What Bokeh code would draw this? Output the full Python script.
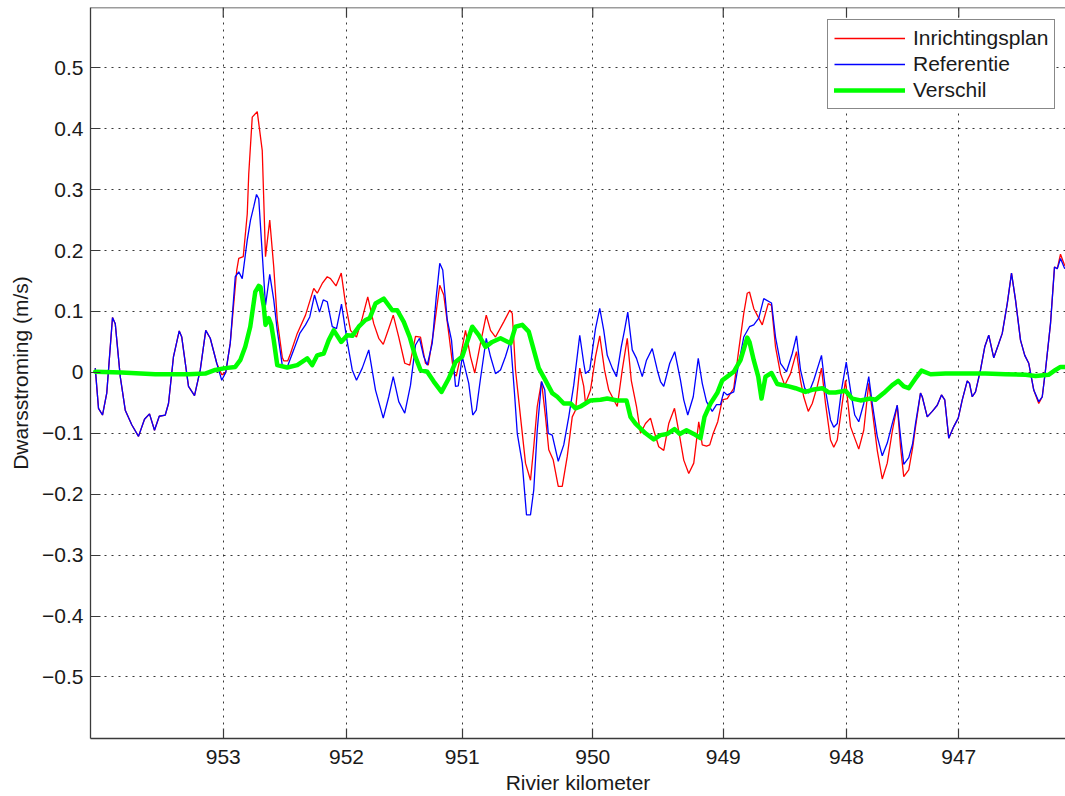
import math
from bokeh.plotting import figure
from bokeh.models import Range1d, FixedTicker, Legend, LegendItem, Span
from bokeh.embed import file_html
from bokeh.resources import INLINE

# ---------------- data (distance along river axis in m) ----------------
afstand_inrichtingsplan = [
    38, 64, 96, 130, 176, 198, 238, 278, 330, 384, 432, 472, 512, 550, 598, 624, 664, 710, 730, 784,
    832, 878, 922, 958, 1010, 1050, 1082, 1118,
    1170, 1186, 1222, 1254, 1266, 1294, 1334, 1374, 1400, 1434, 1466, 1494, 1534, 1546, 1578, 1600,
    1654, 1720, 1786, 1814, 1854, 1894, 1920, 1964, 2006, 2040, 2080, 2128, 2174, 2218, 2266, 2306,
    2342, 2386, 2422, 2466, 2514, 2554, 2600, 2640, 2680, 2702, 2746, 2794, 2826, 2866, 2906, 2926,
    2960, 3000, 3040, 3074, 3120, 3166, 3200, 3240, 3306, 3354, 3374, 3400, 3440, 3480, 3520, 3546,
    3574, 3608, 3640, 3666, 3702, 3742, 3774, 3814, 3854, 3880, 3914, 3946, 3960, 4000, 4040, 4074,
    4112, 4146, 4186, 4214, 4254, 4294, 4326, 4368, 4400, 4440, 4480, 4506, 4546, 4586, 4626, 4672,
    4714, 4746, 4786, 4826, 4866, 4894, 4928, 4954, 4982, 5018, 5054, 5094, 5146, 5186, 5226, 5254,
    5272, 5306, 5374, 5422, 5448, 5480, 5520, 5554, 5600, 5648, 5680, 5706, 5742, 5774, 5814, 5848,
    5880, 5920, 5946, 5974, 6014, 6040, 6080, 6146, 6186, 6226, 6254, 6294, 6334, 6374, 6414, 6454,
    6480, 6506, 6546, 6576, 6600, 6640, 6654, 6694, 6734, 6774, 6808, 6834, 6866, 6906, 6942, 6974,
    7014, 7032, 7054, 7080, 7120, 7154, 7186, 7226, 7262, 7294, 7334, 7368, 7400, 7440, 7474, 7506,
    7546, 7586, 7614, 7640, 7680, 7712, 7734, 7760, 7794,
]
inrichtingsplan = [
    0.007, -0.059, -0.070, -0.034, 0.090, 0.080, -0.007, -0.062, -0.086, -0.105, -0.077, -0.068,
    -0.095, -0.072, -0.070, -0.051, 0.026, 0.068, 0.058, -0.023, -0.038, 0.004, 0.069, 0.056, 0.015,
    -0.004, 0.000, 0.048,
    0.168, 0.187, 0.190, 0.260, 0.326, 0.419, 0.428, 0.364, 0.190, 0.250, 0.173, 0.086, 0.025, 0.019,
    0.019, 0.031, 0.064, 0.094, 0.138, 0.130, 0.146, 0.157, 0.154, 0.142, 0.163, 0.113, 0.069, 0.058,
    0.089, 0.124, 0.080, 0.056, 0.046, 0.072, 0.094, 0.058, 0.015, 0.012, 0.059, 0.058, 0.015, 0.012,
    0.069, 0.143, 0.127, 0.064, -0.002, -0.006, 0.026, 0.069, 0.026, -0.001, 0.048, 0.094, 0.069,
    0.058, 0.083, 0.102, 0.097, 0.004, -0.073, -0.149, -0.177, -0.122, -0.056, -0.015, -0.073, -0.127,
    -0.144, -0.187, -0.187, -0.138, -0.073, -0.062, 0.007, -0.023, -0.051, -0.029, 0.026, 0.060, 0.004,
    -0.029, -0.045, -0.056, 0.004, 0.056, -0.013, -0.056, -0.100, -0.084, -0.075, -0.095, -0.122,
    -0.128, -0.084, -0.059, -0.106, -0.144, -0.166, -0.149, -0.081, -0.119, -0.121, -0.119, -0.100,
    -0.081, -0.045, -0.043, -0.026, 0.037, 0.097, 0.130, 0.132, 0.105, 0.078, 0.113, 0.110, 0.042,
    -0.002, -0.021, -0.002, 0.034, -0.013, -0.040, -0.064, -0.051, -0.023, 0.007, -0.051, -0.111,
    -0.123, -0.111, -0.051, -0.013, -0.089, -0.126, -0.095, -0.018, -0.062, -0.128, -0.175, -0.149,
    -0.097, -0.054, -0.122, -0.171, -0.160, -0.125, -0.090, -0.034, -0.040, -0.073, -0.064, -0.054,
    -0.037, -0.045, -0.108, -0.089, -0.075, -0.045, -0.014, -0.018, -0.040, -0.032, 0.004, 0.042,
    0.061, 0.024, 0.045, 0.064, 0.113, 0.163, 0.119, 0.053, 0.028, 0.015, -0.029, -0.051, -0.040,
    0.004, 0.080, 0.173, 0.170, 0.194, 0.175,
]

afstand_referentie = [
    38, 64, 96, 130, 176, 198, 238, 278, 330, 384, 432, 472, 512, 550, 598, 624, 664, 710, 730, 784,
    832, 878, 922, 958, 1010, 1050, 1082, 1118,
    1158, 1186, 1214, 1254, 1280, 1306, 1328, 1346, 1374, 1400, 1434, 1466, 1494, 1534, 1574, 1626,
    1674, 1720, 1754, 1792, 1832, 1862, 1894, 1934, 1968, 2008, 2054, 2094, 2128, 2174, 2226, 2280,
    2342, 2386, 2422, 2466, 2514, 2560, 2600, 2632, 2666, 2694, 2734, 2766, 2794, 2818, 2854, 2888,
    2920, 2942, 2974, 3026, 3058, 3086, 3120, 3166, 3200, 3240, 3280, 3320, 3360, 3394, 3414, 3454,
    3488, 3520, 3546, 3574, 3608, 3634, 3662, 3694, 3742, 3786, 3826, 3866, 3914, 3946, 3960, 3994,
    4040, 4074, 4106, 4134, 4174, 4208, 4246, 4272, 4298, 4334, 4368, 4414, 4448, 4494, 4534, 4560,
    4586, 4634, 4674, 4720, 4746, 4778, 4822, 4862, 4894, 4928, 4974, 5008, 5040, 5066, 5094, 5146,
    5186, 5226, 5272, 5306, 5346, 5386, 5448, 5480, 5520, 5568, 5614, 5648, 5680, 5714, 5746, 5786,
    5848, 5880, 5920, 5946, 5974, 6008, 6046, 6080, 6114, 6146, 6186, 6226, 6254, 6294, 6334, 6374,
    6414, 6454, 6480, 6506, 6546, 6576, 6600, 6640, 6654, 6694, 6734, 6774, 6808, 6834, 6866, 6906,
    6942, 6974, 7014, 7032, 7054, 7080, 7120, 7154, 7186, 7226, 7262, 7294, 7334, 7368, 7400, 7440,
    7474, 7506, 7546, 7586, 7614, 7640, 7680, 7712, 7734, 7760, 7794,
]
referentie = [
    0.007, -0.059, -0.070, -0.034, 0.090, 0.080, -0.007, -0.062, -0.086, -0.105, -0.077, -0.068,
    -0.095, -0.072, -0.070, -0.051, 0.026, 0.068, 0.058, -0.023, -0.038, 0.004, 0.069, 0.056, 0.015,
    -0.013, 0.000, 0.048,
    0.157, 0.165, 0.154, 0.217, 0.250, 0.272, 0.292, 0.285, 0.195, 0.110, 0.161, 0.119, 0.069, 0.012,
    0.009, 0.037, 0.064, 0.078, 0.091, 0.127, 0.099, 0.119, 0.116, 0.075, 0.072, 0.112, 0.050, 0.004,
    -0.013, 0.007, 0.037, -0.029, -0.075, -0.040, -0.007, -0.048, -0.067, -0.021, 0.045, 0.056, 0.026,
    0.012, 0.048, 0.124, 0.179, 0.168, 0.086, 0.053, -0.023, -0.022, 0.026, -0.018, -0.070, -0.062,
    -0.010, 0.056, 0.026, -0.002, 0.004, 0.026, 0.053, -0.040, -0.100, -0.149, -0.234, -0.234, -0.193,
    -0.095, -0.015, -0.029, -0.100, -0.103, -0.146, -0.119, -0.073, -0.021, 0.061, 0.015, -0.002,
    0.004, 0.072, 0.105, 0.069, 0.028, 0.007, -0.007, 0.042, 0.069, 0.099, 0.037, 0.023, -0.007, 0.020,
    0.039, 0.004, -0.015, -0.023, 0.015, 0.034, -0.013, -0.045, -0.070, -0.040, 0.023, -0.018, -0.048,
    -0.064, -0.053, -0.053, -0.032, -0.037, -0.032, 0.015, 0.058, 0.075, 0.078, 0.089, 0.121, 0.114,
    0.058, 0.015, 0.001, 0.031, 0.060, 0.004, -0.026, -0.034, -0.013, 0.028, -0.029, -0.078, -0.090,
    -0.084, -0.029, 0.017, -0.029, -0.070, -0.081, -0.051, -0.007, -0.051, -0.105, -0.137, -0.116,
    -0.084, -0.054, -0.105, -0.151, -0.140, -0.118, -0.084, -0.034, -0.040, -0.073, -0.064, -0.054,
    -0.037, -0.045, -0.108, -0.089, -0.075, -0.045, -0.014, -0.018, -0.040, -0.032, 0.004, 0.042,
    0.061, 0.024, 0.045, 0.064, 0.113, 0.163, 0.119, 0.053, 0.028, 0.015, -0.029, -0.048, -0.040,
    0.004, 0.080, 0.173, 0.170, 0.187, 0.170,
]

afstand_verschil = [
    38, 248, 518, 784, 918, 998, 1078, 1158, 1198, 1238, 1278, 1318, 1346, 1360, 1386, 1400, 1426,
    1446, 1466, 1494, 1574, 1654, 1734, 1774, 1814, 1866, 1906, 1946, 2006, 2054, 2094, 2146, 2200,
    2234, 2280, 2346, 2414, 2454, 2506, 2554, 2600, 2640, 2694, 2746, 2808, 2866, 2920, 2974, 3000,
    3054, 3106, 3160, 3214, 3280, 3360, 3400, 3454, 3506, 3546, 3586, 3640, 3694, 3734, 3786, 3840,
    3880, 3920, 4000, 4080, 4134, 4214, 4288, 4320, 4360, 4440, 4506, 4560, 4614, 4672, 4714, 4768,
    4826, 4880, 4912, 4960, 5014, 5054, 5094, 5146, 5200, 5254, 5272, 5306, 5342, 5368, 5400, 5448,
    5494, 5586, 5640, 5720, 5786, 5854, 5906, 5960, 6040, 6094, 6160, 6240, 6280, 6346, 6414, 6462,
    6506, 6546, 6600, 6648, 6720, 6840, 7000, 7160, 7320, 7480, 7560, 7664, 7720, 7760, 7800,
]
verschil = [
    0.001, 0.000, -0.003, -0.003, -0.002, 0.004, 0.007, 0.009, 0.020, 0.042, 0.075, 0.132, 0.142,
    0.140, 0.108, 0.078, 0.089, 0.078, 0.053, 0.012, 0.008, 0.012, 0.023, 0.012, 0.028, 0.031, 0.053,
    0.069, 0.050, 0.061, 0.060, 0.075, 0.086, 0.089, 0.113, 0.121, 0.102, 0.102, 0.083, 0.058, 0.025,
    0.004, 0.001, -0.015, -0.032, -0.010, 0.017, 0.026, 0.042, 0.075, 0.061, 0.042, 0.050, 0.056,
    0.048, 0.075, 0.078, 0.067, 0.037, 0.007, -0.013, -0.034, -0.040, -0.051, -0.051, -0.059, -0.056,
    -0.046, -0.045, -0.043, -0.046, -0.046, -0.073, -0.084, -0.100, -0.110, -0.103, -0.101, -0.093,
    -0.101, -0.095, -0.101, -0.108, -0.073, -0.051, -0.034, -0.013, -0.007, 0.001, 0.020, 0.057,
    0.050, 0.020, -0.007, -0.043, -0.007, -0.001, -0.019, -0.023, -0.026, -0.032, -0.028, -0.026,
    -0.033, -0.033, -0.030, -0.043, -0.046, -0.043, -0.045, -0.034, -0.021, -0.014, -0.023, -0.026,
    -0.010, 0.003, -0.003, -0.002, -0.002, -0.002, -0.003, -0.004, -0.006, -0.004, 0.004, 0.009, 0.009,
]

km_tick_afstand = [1062, 2048, 2974, 4018, 5062, 6048, 6946]
km_tick_labels = ["953", "952", "951", "950", "949", "948", "947"]
y_ticks = [-0.5, -0.4, -0.3, -0.2, -0.1, 0.0, 0.1, 0.2, 0.3, 0.4, 0.5]
y_tick_labels = ["\u22120.5", "\u22120.4", "\u22120.3", "\u22120.2", "\u22120.1", "0",
                 "0.1", "0.2", "0.3", "0.4", "0.5"]

X_MIN, X_MAX = 0, 7800
Y_MIN, Y_MAX = -0.601, 0.599

# ---------------- figure ----------------
FONT = "Liberation Sans"
FS = "21px"
TXT = "#1a1a1a"
AX = "#3a3a3a"

p = figure(width=1065, height=796, output_backend="svg", toolbar_location=None,
           x_range=Range1d(X_MIN, X_MAX), y_range=Range1d(Y_MIN, Y_MAX),
           min_border_left=90, min_border_right=0, min_border_top=7, min_border_bottom=57,
           x_axis_label="Rivier kilometer", y_axis_label="Dwarsstroming (m/s)")
p.outline_line_color = None
p.background_fill_color = "white"
p.border_fill_color = "white"

xt = FixedTicker(ticks=km_tick_afstand, minor_ticks=[])
yt = FixedTicker(ticks=y_ticks, minor_ticks=[])

xa = p.xaxis[0]
xa.ticker = xt
xa.major_label_overrides = {t: l for t, l in zip(km_tick_afstand, km_tick_labels)}
ya = p.yaxis[0]
ya.ticker = yt
ya.major_label_overrides = {t: l for t, l in zip(y_ticks, y_tick_labels)}

for ax in (xa, ya):
    ax.axis_line_color = AX
    ax.axis_line_width = 1.3
    ax.major_tick_line_color = AX
    ax.major_tick_line_width = 1.2
    ax.major_tick_in = 10
    ax.major_tick_out = 0
    ax.minor_tick_line_color = None
    ax.major_label_text_font = FONT
    ax.major_label_text_font_size = FS
    ax.major_label_text_color = TXT
    ax.axis_label_text_font = FONT
    ax.axis_label_text_font_size = FS
    ax.axis_label_text_font_style = "normal"
    ax.axis_label_text_color = TXT

xa.major_label_standoff = 11
xa.axis_label_standoff = 4
ya.major_label_standoff = 7
ya.axis_label_standoff = 7

for g in (p.xgrid[0], p.ygrid[0]):
    g.grid_line_color = "#222222"
    g.grid_line_dash = "2 5"
    g.grid_line_width = 1
    g.grid_line_alpha = 0.9
p.xgrid[0].ticker = xt
p.ygrid[0].ticker = yt

# top border of the axes box with inward ticks (box on)
p.add_layout(Span(location=Y_MAX, dimension="width", line_color=AX, line_width=1.3))
p.scatter(km_tick_afstand, [Y_MAX] * len(km_tick_afstand), marker="dash", size=20,
          angle=math.pi / 2, line_color=AX, line_width=1.2)

r_red = p.line(afstand_inrichtingsplan, inrichtingsplan, line_color="#ff0000", line_width=1.3)
r_blue = p.line(afstand_referentie, referentie, line_color="#0000ff", line_width=1.3)
r_green = p.line(afstand_verschil, verschil, line_color="#00ff00", line_width=4.5,
                 line_join="round", line_cap="round")

legend = Legend(items=[LegendItem(label="Inrichtingsplan", renderers=[r_red]),
                       LegendItem(label="Referentie", renderers=[r_blue]),
                       LegendItem(label="Verschil", renderers=[r_green])],
                location=(737, 629), orientation="vertical",
                glyph_width=71, glyph_height=18, label_height=18, spacing=2, padding=6,
                label_standoff=8, label_text_font=FONT, label_text_font_size=FS,
                label_text_color=TXT, border_line_color="#111111", border_line_width=1.2,
                background_fill_color="white", background_fill_alpha=1.0, margin=0)
p.add_layout(legend, "center")

open("out.html", "w").write(file_html(p, INLINE))
